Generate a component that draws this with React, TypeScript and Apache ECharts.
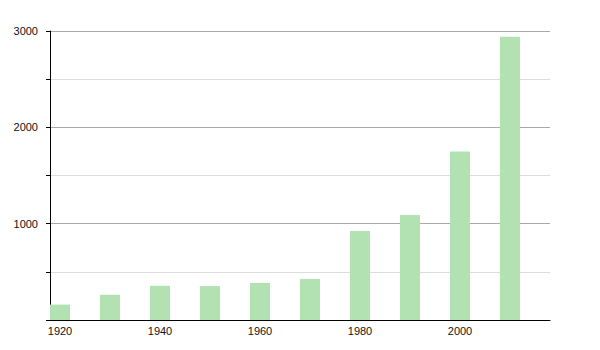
import React, { useEffect, useRef } from "react";
import * as echarts from "echarts";

const years = [1920, 1930, 1940, 1950, 1960, 1970, 1980, 1990, 2000, 2010];
const values = [160, 262, 355, 352, 385, 425, 925, 1090, 1750, 2940];
const xTickLabels = [1920, 1940, 1960, 1980, 2000];
const yTickLabels = [1000, 2000, 3000];

export default function App() {
  const ref = useRef<HTMLDivElement>(null);
  useEffect(() => {
    if (!ref.current) return;
    const chart = echarts.init(ref.current, null, { renderer: "svg" });
    chart.setOption({
      animation: false,
      grid: { left: 50, right: 50, top: 31, bottom: 30, containLabel: false },
      xAxis: {
        type: "value",
        min: 1918,
        max: 2018,
        splitLine: { show: false },
        axisLine: { show: true, lineStyle: { color: "#000", width: 1 } },
        axisTick: { show: false },
        axisLabel: {
          customValues: xTickLabels,
          color: "#111",
          fontSize: 11,
          fontFamily: "Liberation Sans, Arial, sans-serif",
          margin: 5,
          formatter: (v: number) => String(v),
        },
      },
      yAxis: {
        type: "value",
        min: 0,
        max: 3000,
        interval: 500,
        axisLine: { show: true, lineStyle: { color: "#000", width: 1 } },
        axisTick: { show: true, length: 4, lineStyle: { color: "#000" } },
        splitLine: { show: true, lineStyle: { color: ["#aaa", "#ddd"], width: 1 } },
        axisLabel: {
          color: "#111",
          fontSize: 11,
          fontFamily: "Liberation Sans, Arial, sans-serif",
          margin: 12,
          formatter: (v: number) => (yTickLabels.includes(v) ? String(v) : ""),
        },
      },
      series: [
        {
          type: "bar",
          barWidth: 20,
          itemStyle: { color: "#b2e2b2" },
          data: years.map((y, i) => [y, values[i]]),
        },
      ],
    });
    return () => chart.dispose();
  }, []);
  return (
    <div
      ref={ref}
      style={{ position: "fixed", left: 0, top: 0, width: 600, height: 350, background: "#fff" }}
    />
  );
}
